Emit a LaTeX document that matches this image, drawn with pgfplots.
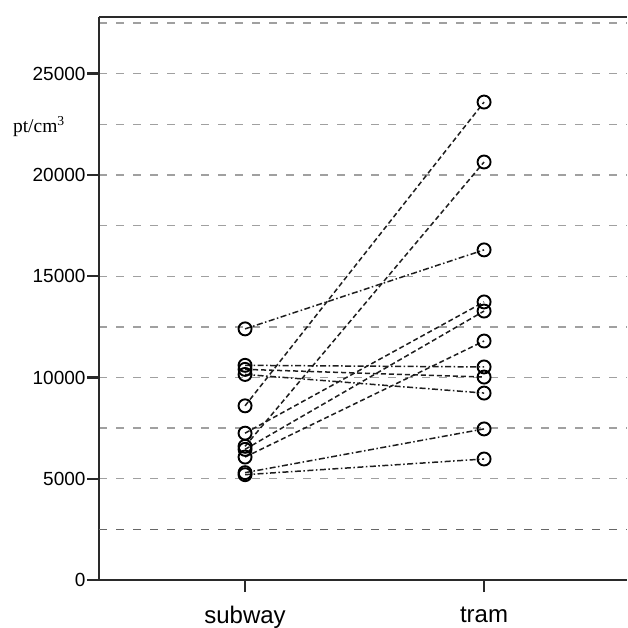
\documentclass[border=0pt]{standalone}
\usepackage{pgfplots}
\pgfplotsset{compat=1.18}
\usepackage{fontspec}
\setmainfont{Liberation Sans}
\newfontfamily\serif{Liberation Serif}

\definecolor{axisgray}{HTML}{2A2A2A}
\definecolor{gridgray}{HTML}{A0A0A0}
\definecolor{griddark}{HTML}{666666}
\definecolor{linegray}{HTML}{1E1E1E}

\tikzset{
  pairA/.style={linegray, line width=1.5pt, dash pattern=on 5pt off 3pt,
    mark=o, mark size=6.5pt, mark options={solid, line width=1.9pt, black}},
  pairB/.style={linegray, line width=1.5pt, dash pattern=on 6pt off 2.5pt on 1.5pt off 2.5pt,
    mark=o, mark size=6.5pt, mark options={solid, line width=1.9pt, black}},
}

\begin{document}
\begin{tikzpicture}
\begin{axis}[
    x=239pt,
    y=0.02025pt,
    xmin=-0.611, xmax=1.598,
    ymin=0, ymax=27800,
    separate axis lines,
    axis x line=box,
    axis y line*=left,
    axis line style={line width=2.4pt, axisgray},
    xtick={0,1},
    xticklabels={subway,tram},
    xtick pos=left,
    ytick={0,5000,10000,15000,20000,25000},
    minor ytick={7500,12500,17500,22500,27500},
    extra y ticks={2500},
    extra y tick labels={},
    extra y tick style={major tick length=0pt,
      major grid style={dash pattern=on 8pt off 9pt, line width=1.4pt, griddark}},
    ymajorgrids=true,
    yminorgrids=true,
    major grid style={dash pattern=on 8pt off 9pt, line width=1.4pt, gridgray},
    minor grid style={dash pattern=on 8pt off 9pt, line width=1.4pt, gridgray},
    tick align=outside,
    major tick length=12pt,
    minor tick length=0pt,
    tick style={line width=2.4pt, axisgray},
    scaled y ticks=false,
    /pgf/number format/fixed,
    /pgf/number format/1000 sep={},
    /pgf/number format/assume math mode=true,
    y tick label style={font=\fontsize{19}{21}\selectfont, xshift=2pt},
    x tick label style={font=\fontsize{24}{27}\selectfont, yshift=-11pt},
    clip=false,
]
\coordinate (bl) at (rel axis cs:0,0);
\coordinate (tr) at (rel axis cs:1,1);

\addplot[pairB] coordinates {(0,12400) (1,16300)};
\addplot[pairB] coordinates {(0,10600) (1,10520)};
\addplot[pairA] coordinates {(0,10400) (1,10020)};
\addplot[pairB] coordinates {(0,10150) (1,9230)};
\addplot[pairA] coordinates {(0,8600) (1,23600)};
\addplot[pairA] coordinates {(0,7250) (1,13730)};
\addplot[pairA] coordinates {(0,6600) (1,20640)};
\addplot[pairA] coordinates {(0,6450) (1,13280)};
\addplot[pairA] coordinates {(0,6070) (1,11800)};
\addplot[pairB] coordinates {(0,5300) (1,7460)};
\addplot[pairB] coordinates {(0,5200) (1,5975)};

\node[anchor=east, font=\serif\fontsize{19.5}{21}\selectfont, inner sep=0pt]
  at ([xshift=-34pt]axis cs:-0.611,22400) {pt/cm\textsuperscript{3}};
\end{axis}
\pgfresetboundingbox
\path[use as bounding box] ([xshift=-99pt,yshift=-48pt]bl) rectangle ([yshift=17pt]tr);
\end{tikzpicture}
\end{document}
